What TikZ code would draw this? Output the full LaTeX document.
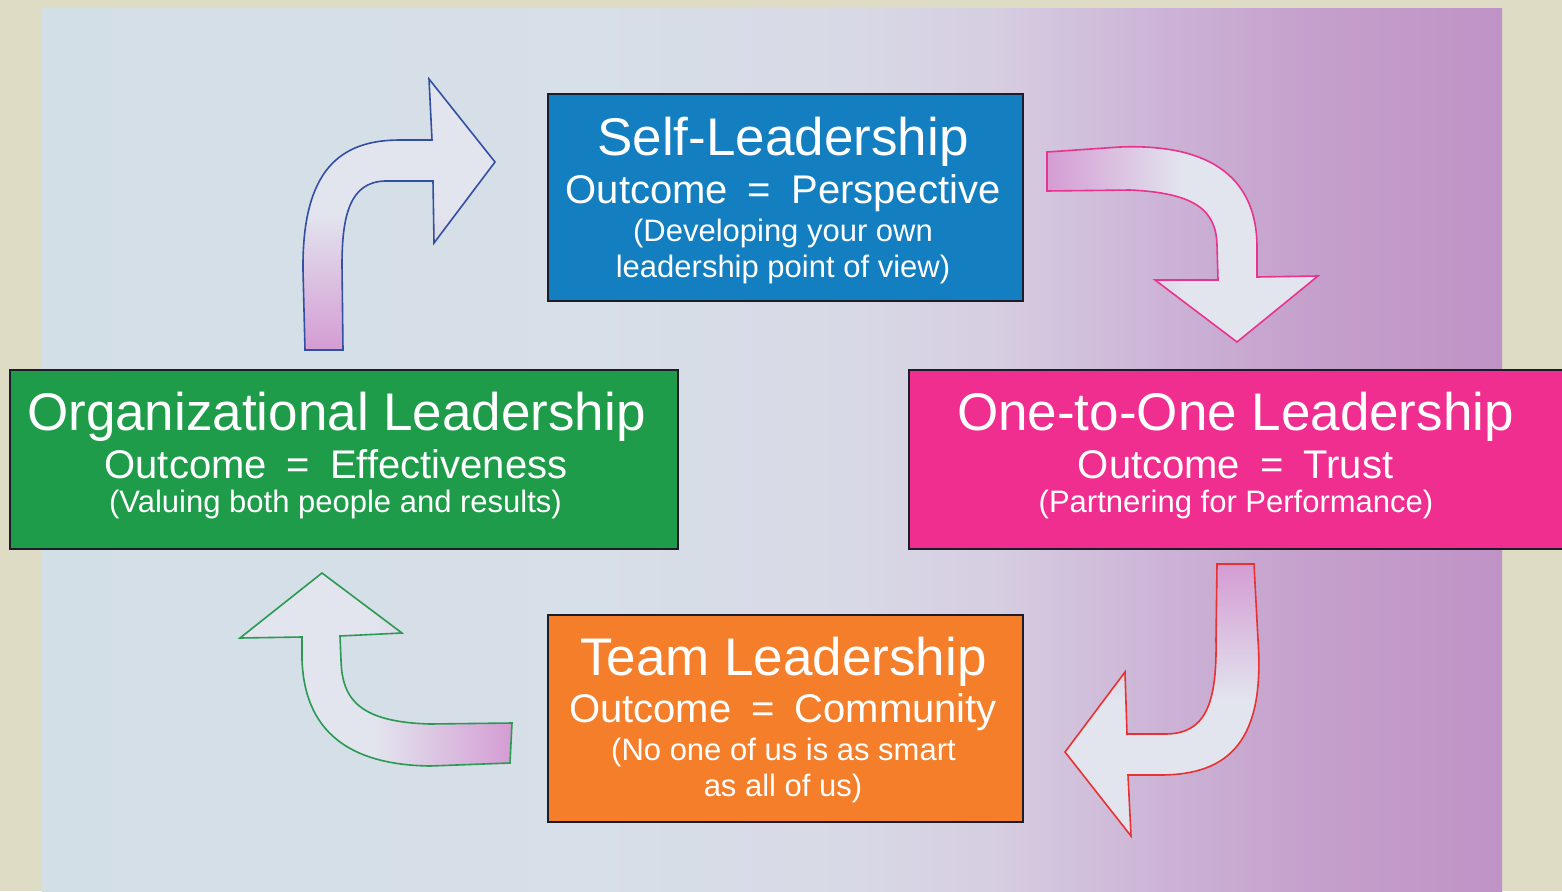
\documentclass[tikz,border=0pt]{standalone}
\usepackage{fontspec}
\setmainfont{Liberation Sans}
\definecolor{bgbeige}{HTML}{DEDCC4}
\definecolor{bgA}{HTML}{D3DFE7}
\definecolor{bgB}{HTML}{D7DFE8}
\definecolor{bgC}{HTML}{D8D9E6}
\definecolor{bgD}{HTML}{D6CDE1}
\definecolor{bgE}{HTML}{CDB5D7}
\definecolor{bgF}{HTML}{C5A1CC}
\definecolor{bgG}{HTML}{C093C6}
\definecolor{selfblue}{HTML}{137EC0}
\definecolor{orggreen}{HTML}{1F9C4A}
\definecolor{onepink}{HTML}{F02E90}
\definecolor{teamorange}{HTML}{F57E2A}
\definecolor{boxline}{HTML}{1C1C2A}
\definecolor{arrpurple}{HTML}{D49CD3}
\definecolor{arrlight}{HTML}{E2E4EE}
\definecolor{lnblue}{HTML}{3150A2}
\definecolor{lnpink}{HTML}{E8348C}
\definecolor{lnred}{HTML}{E83232}
\definecolor{lngreen}{HTML}{2A9A52}
\pgfdeclarehorizontalshading{bgshade}{100bp}{color(0bp)=(bgA); color(25bp)=(bgA); color(44bp)=(bgB); color(52.7bp)=(bgC); color(57.8bp)=(bgD); color(63bp)=(bgE); color(68bp)=(bgF); color(75bp)=(bgG); color(100bp)=(bgG)}
\tikzset{
  lbox/.style={draw=boxline, line width=1.8pt, inner sep=0pt},
  ttl/.style={text=white, anchor=base, inner sep=0pt, font=\fontsize{53}{60}\selectfont},
  sub/.style={text=white, anchor=base, inner sep=0pt, font=\fontsize{40}{46}\selectfont},
  note/.style={text=white, anchor=base, inner sep=0pt, font=\fontsize{31}{36}\selectfont},
  curvearrow/.style={line width=1.6pt, line join=miter}
}
\newcommand{\eqgap}{\hspace{0.5em}=\hspace{0.5em}}
\begin{document}
\begin{tikzpicture}[x=1pt,y=-1pt]
\useasboundingbox (0,0) rectangle (1562,891);
% background
\fill[bgbeige] (0,0) rectangle (1562,891);
\shade[shading=bgshade] (42,9) rectangle (1502,891);

% arrows
\path[curvearrow, draw=lnblue, bottom color=arrpurple, top color=arrlight, middle color=arrlight]
  (305,350) -- (303,270) .. controls (302,170) and (340,140) .. (400,140) -- (432,140)
  -- (429,79) -- (495,162) -- (434,243) -- (433,181) -- (385,181)
  .. controls (350,182) and (342,215) .. (342,265) -- (343,350) -- cycle;
\path[curvearrow, draw=lnpink, left color=arrpurple, right color=arrlight, middle color=arrlight]
  (1047,152) -- (1120,147) .. controls (1225,143) and (1258,190) .. (1257,250) -- (1257,277)
  -- (1318,276) -- (1237,342) -- (1155,280) -- (1218,280) -- (1217,245)
  .. controls (1216,210) and (1195,193) .. (1130,190) -- (1047,191) -- cycle;
\path[curvearrow, draw=lnred, top color=arrpurple, bottom color=arrlight, middle color=arrlight]
  (1217,564) -- (1254,564) -- (1258,640) .. controls (1265,740) and (1230,775) .. (1160,775)
  -- (1128,775) -- (1131,836) -- (1065,752) -- (1125,672) -- (1127,734) -- (1165,734)
  .. controls (1205,734) and (1217,705) .. (1216,640) -- cycle;
\path[curvearrow, draw=lngreen, right color=arrpurple, left color=arrlight, middle color=arrlight]
  (512,723) -- (430,724) .. controls (360,722) and (342,700) .. (341,660) -- (340,636)
  -- (402,633) -- (322,573) -- (240,638) -- (302,637) -- (302,660)
  .. controls (305,740) and (360,765) .. (430,766) -- (510,763) -- cycle;

% boxes
\node[lbox, fill=selfblue, minimum width=475pt, minimum height=207pt] (self) at (785.5,197.5) {};
\node[lbox, fill=orggreen, minimum width=668pt, minimum height=179pt] (org) at (344,459.5) {};
\node[lbox, fill=onepink, minimum width=666pt, minimum height=179pt] (one) at (1242,459.5) {};
\node[lbox, fill=teamorange, minimum width=475pt, minimum height=207pt] (team) at (785.5,718.5) {};

% texts
\node[ttl] (self1) at (783,155) {Self-Leadership};
\node[sub] (self2) at (783,203) {Outcome\eqgap Perspective};
\node[note] (self3) at (783,241) {(Developing your own};
\node[note] (self4) at (783,277) {leadership point of view)};

\node[ttl] (org1) at (336.5,430) {Organizational Leadership};
\node[sub] (org2) at (336,478) {Outcome\eqgap Effectiveness};
\node[note] (org3) at (335.5,512) {(Valuing both people and results)};

\node[ttl] (one1) at (1235.5,430) {One-to-One Leadership};
\node[sub] (one2) at (1235.5,478) {Outcome\eqgap Trust};
\node[note] (one3) at (1236,512) {(Partnering for Performance)};

\node[ttl] (team1) at (783.5,675) {Team Leadership};
\node[sub] (team2) at (783,722) {Outcome\eqgap Community};
\node[note] (team3) at (783.5,760) {(No one of us is as smart};
\node[note] (team4) at (783,796) {as all of us)};
\end{tikzpicture}
\end{document}
